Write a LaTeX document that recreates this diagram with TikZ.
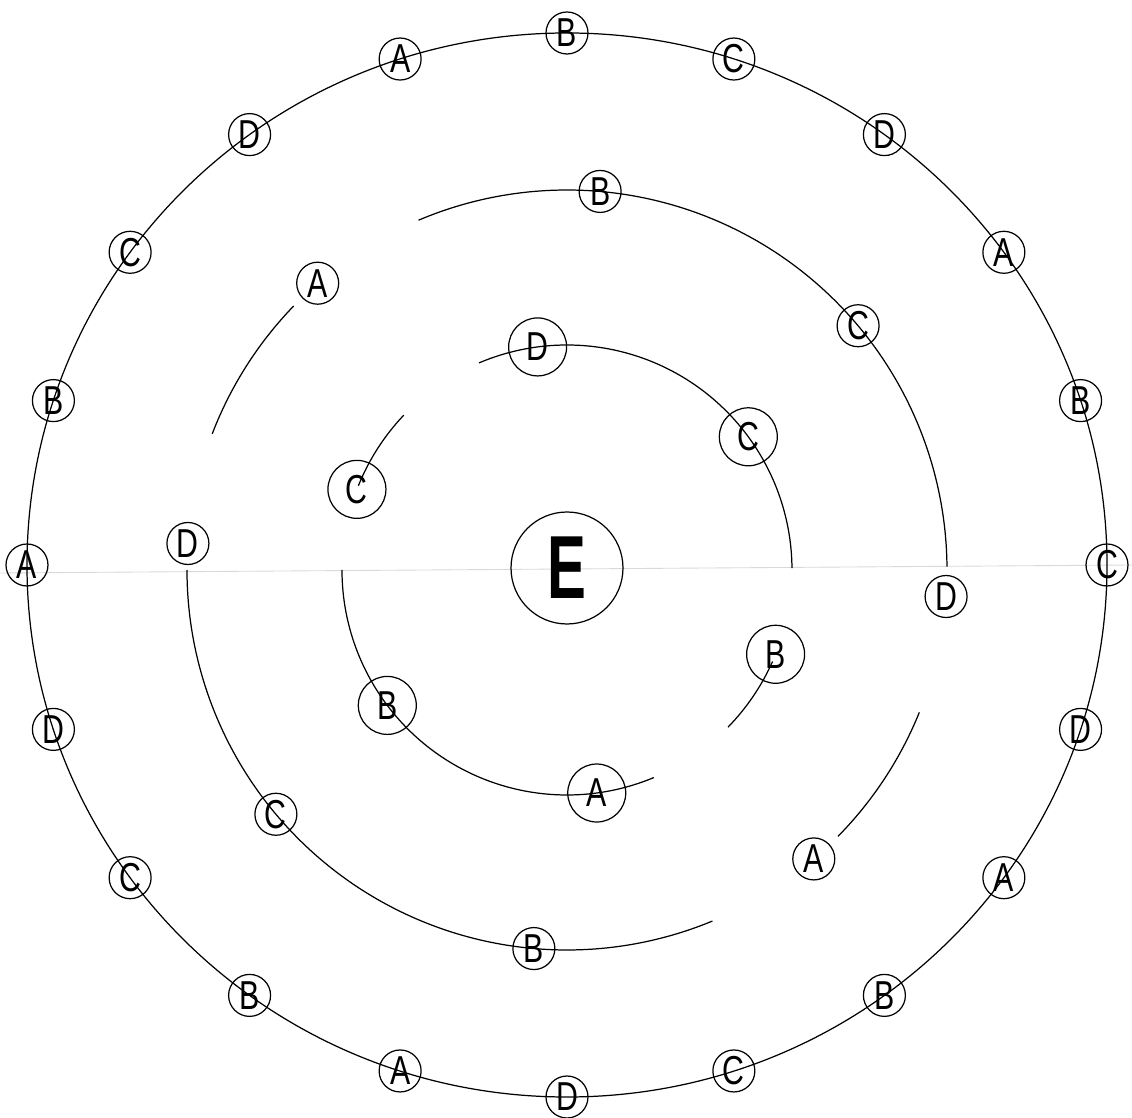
\documentclass[tikz,border=0pt]{standalone}
\usepackage{fontspec}
\newfontfamily\ringfont[FakeStretch=0.75]{Liberation Sans}
\newfontfamily\corefont[FakeStretch=0.65]{Liberation Sans}

\tikzset{
  ring/.style={line width=0.7pt},
  tag/.style={draw, circle, line width=0.7pt, inner sep=0pt, minimum size=0.84cm,
    font=\ringfont\fontsize{23}{23}\selectfont},
  bigtag/.style={tag, minimum size=1.16cm},
  core/.style={draw, circle, line width=0.7pt, inner sep=0pt, minimum size=2.24cm,
    font=\corefont\bfseries\fontsize{51}{51}\selectfont},
}

\begin{document}
\begin{tikzpicture}[x=0.02cm, y=0.02cm]
    \useasboundingbox (-567,-548) rectangle (565,570);

    % Fold of the sheet
    \draw[gray!30, line width=0.5pt] (-567,-3) -- (565,5);

    % Outer ring
    \begin{scope}[shift={(0,5)}]
    \draw[ring] (0,0) ellipse[x radius=540, y radius=532];
    \node[tag] (oC1) at (0:540 and 532) {C};
    \node[tag] (oB1) at (18:540 and 532) {B};
    \node[tag] (oA1) at (36:540 and 532) {A};
    \node[tag] (oD1) at (54:540 and 532) {D};
    \node[tag] (oC2) at (72:540 and 532) {C};
    \node[tag] (oB2) at (90:540 and 532) {B};
    \node[tag] (oA2) at (108:540 and 532) {A};
    \node[tag] (oD2) at (126:540 and 532) {D};
    \node[tag] (oC3) at (144:540 and 532) {C};
    \node[tag] (oB3) at (162:540 and 532) {B};
    \node[tag] (oA3) at (180:540 and 532) {A};
    \node[tag] (oD3) at (198:540 and 532) {D};
    \node[tag] (oC4) at (216:540 and 532) {C};
    \node[tag] (oB4) at (234:540 and 532) {B};
    \node[tag] (oA4) at (252:540 and 532) {A};
    \node[tag] (oD4) at (270:540 and 532) {D};
    \node[tag] (oC5) at (288:540 and 532) {C};
    \node[tag] (oB5) at (306:540 and 532) {B};
    \node[tag] (oA5) at (324:540 and 532) {A};
    \node[tag] (oD5) at (342:540 and 532) {D};
    \end{scope}

    % Middle ring, four pieces
    \draw[ring] (0.5:380) arc[start angle=0.5, end angle=113, radius=380];
    \draw[ring] (136:380) arc[start angle=136, end angle=159, radius=380];
    \draw[ring] (180:380) arc[start angle=180, end angle=292.5, radius=380];
    \draw[ring] (315.5:380) arc[start angle=315.5, end angle=338, radius=380];
    \node[tag] (mB1) at (85:380) {B};
    \node[tag] (mC1) at (40:380) {C};
    \node[tag] (mD1) at (356:380) {D};
    \node[tag] (mA1) at (131:380) {A};
    \node[tag] (mD2) at (176:380) {D};
    \node[tag] (mC2) at (220:380) {C};
    \node[tag] (mB2) at (265:380) {B};
    \node[tag] (mA2) at (310.5:380) {A};

    % Inner ring, four pieces
    \draw[ring] (0.5:225) arc[start angle=0.5, end angle=113, radius=225];
    \draw[ring] (136.5:225) arc[start angle=136.5, end angle=158, radius=225];
    \draw[ring] (180:225) arc[start angle=180, end angle=292.7, radius=225];
    \draw[ring] (315.7:225) arc[start angle=315.7, end angle=336, radius=225];
    \node[bigtag] (iD1) at (97.5:225) {D};
    \node[bigtag] (iC1) at (36.3:225) {C};
    \node[bigtag] (iC2) at (159:225) {C};
    \node[bigtag] (iB1) at (217:225) {B};
    \node[bigtag] (iA1) at (277.6:225) {A};
    \node[bigtag] (iB2) at (338:225) {B};

    % Centre
    \node[core] (e) at (0,2) {E};
\end{tikzpicture}
\end{document}
